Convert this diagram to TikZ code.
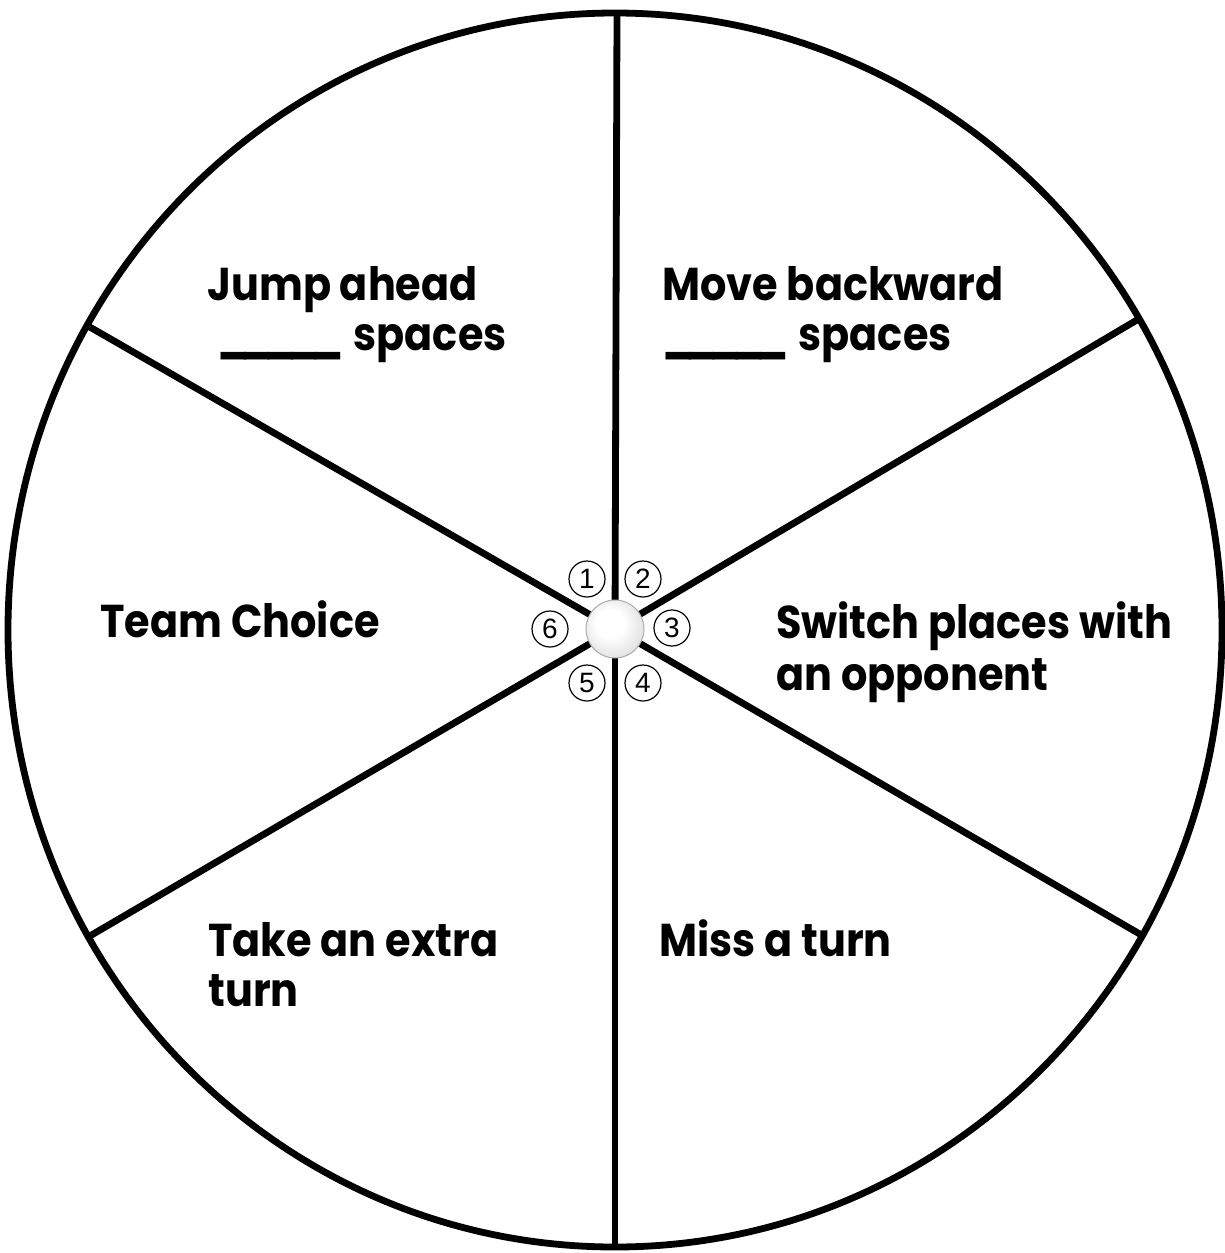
\documentclass[tikz,border=0pt]{standalone}
\usepackage{fontspec}
\setmainfont{Poppins}[FakeStretch=0.9]
\newfontfamily\numfont{Liberation Sans}
\usetikzlibrary{calc}
\pgfdeclareradialshading{knobshade}{\pgfpoint{-6bp}{6bp}}{color(0bp)=(white); color(12bp)=(white); color(32bp)=(gray!28); color(50bp)=(gray!70)}
\newcommand{\blanks}{\_\kern-4.4pt\_\kern-4.4pt\_\kern-4.4pt\_\kern-4.4pt\_}
\tikzset{
  rim/.style={line width=3.4pt, line join=round},
  spoke/.style={line width=3.4pt},
  label/.style={anchor=base west, inner sep=0pt, font=\bfseries\fontsize{23}{28}\selectfont},
  num/.style={circle, draw, line width=0.6pt, minimum size=18pt, inner sep=0pt, font=\numfont\fontsize{14}{14}\selectfont, fill=white},
}
\begin{document}
\begin{tikzpicture}[x=0.5pt,y=-0.5pt]
\useasboundingbox[fill=white] (0,0) rectangle (1225,1253);
\coordinate (c) at (615,629);
\coordinate (e1) at (617,13);
\coordinate (e2) at (1142,317);
\coordinate (e3) at (1138,933);
\coordinate (e4) at (615,1248);
\coordinate (e5) at (83,940);
\coordinate (e6) at (95,330);
\begin{scope}
  \clip (615,630) ellipse [x radius=303.5pt, y radius=308.5pt];
  \foreach \e in {e1,e2,e3,e4,e5,e6}
    \draw[spoke] (c) -- ($(c)!1.06!(\e)$);
\end{scope}
\draw[rim] (615,630) ellipse [x radius=303.5pt, y radius=308.5pt];
% knob
\shade[shading=knobshade] (c) circle [radius=14.5pt];
\draw[gray!65, line width=0.5pt] (c) circle [radius=14.5pt];
% numbers
\node[num] (n1) at (587,579) {1};
\node[num] (n2) at (643,579) {2};
\node[num] (n3) at (672,628) {3};
\node[num] (n4) at (643,683) {4};
\node[num] (n5) at (587,683) {5};
\node[num] (n6) at (550,629) {6};
% labels
\node[label] (t1a) at (207,300) {Jump ahead};
\node[label] (t1b) at (217,350) {\blanks\hspace{5pt}spaces};
\node[label] (t2a) at (662,300) {Move backward};
\node[label] (t2b) at (662,350) {\blanks\hspace{5pt}spaces};
\node[label] (t3a) at (776,638) {Switch places with};
\node[label] (t3b) at (776,690) {an opponent};
\node[label] (t4) at (659,956) {Miss a turn};
\node[label] (t5a) at (208,956) {Take an extra};
\node[label] (t5b) at (208,1006) {turn};
\node[label] (t6) at (100,637) {Team Choice};
\end{tikzpicture}
\end{document}
